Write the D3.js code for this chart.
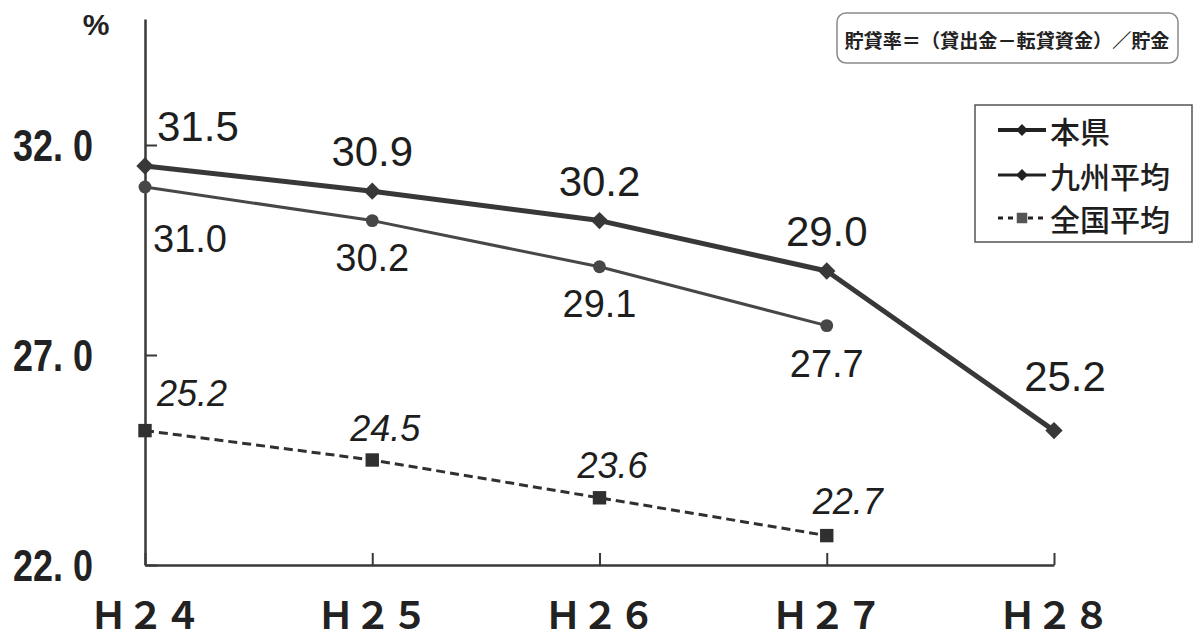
<!DOCTYPE html>
<html>
<head>
<meta charset="utf-8">
<script src="https://cdn.jsdelivr.net/npm/d3@7"></script>
<style>
  html, body { margin: 0; padding: 0; background: #fff; }
  svg { display: block; }
</style>
</head>
<body>
<svg id="chart" width="1200" height="641"></svg>
<script>
// ---- data ----
const categories = ["Ｈ２４", "Ｈ２５", "Ｈ２６", "Ｈ２７", "Ｈ２８"];
const honken   = [31.5, 30.9, 30.2, 29.0, 25.2];   // 本県
const kyushu   = [31.0, 30.2, 29.1, 27.7, null];   // 九州平均
const zenkoku  = [25.2, 24.5, 23.6, 22.7, null];   // 全国平均
const seriesNames = ["本県", "九州平均", "全国平均"];
const yTickValues = [22, 27, 32];
const yTickLabels = ["22. 0", "27. 0", "32. 0"];
const yDomain = [22, 35];
const unitLabel = "%";
const noteText = "貯貸率＝（貸出金－転貸資金）／貯金";

// ---- layout ----
const svg = d3.select("#chart");
const x = d3.scalePoint().domain(categories).range([145, 1054]);
const y = d3.scaleLinear().domain(yDomain).range([565, 19]);
const ink = "#383838";

// axes
const yAxis = d3.axisLeft(y)
  .tickValues(yTickValues)
  .tickFormat((d, i) => yTickLabels[i])
  .tickSizeInner(-12).tickSizeOuter(0).tickPadding(52);
const gy = svg.append("g").attr("transform", "translate(145,0)").call(yAxis);
gy.select(".domain").attr("stroke", ink).attr("stroke-width", 2.5);
gy.selectAll(".tick line").attr("stroke", ink).attr("stroke-width", 2);
gy.selectAll(".tick text")
  .attr("fill", "#222")
  .style("font-family", "'Liberation Sans', Arial, sans-serif")
  .style("font-weight", "bold")
  .style("font-size", "44px")
  .attr("textLength", 80)
  .attr("lengthAdjust", "spacingAndGlyphs")
  .attr("dy", "0.36em");

const xAxis = d3.axisBottom(x).tickSizeInner(-12).tickSizeOuter(0).tickPadding(36);
const gx = svg.append("g").attr("transform", "translate(0,565)").call(xAxis);
gx.select(".domain").attr("stroke", ink).attr("stroke-width", 2.5);
gx.selectAll(".tick line").attr("stroke", ink).attr("stroke-width", 2);
gx.selectAll(".tick text")
  .attr("fill", "#222")
  .attr("y", 64).attr("dy", null)
  .style("font-family", "'Noto Sans CJK JP', sans-serif")
  .style("font-weight", "bold")
  .style("font-size", "37px");

// unit label
svg.append("text").attr("x", 96).attr("y", 35)
  .attr("text-anchor", "middle")
  .style("font-family", "'Liberation Sans', Arial, sans-serif")
  .style("font-weight", "bold").style("font-size", "30px")
  .attr("fill", "#222").text(unitLabel);

// note box
svg.append("rect").attr("x", 837).attr("y", 13).attr("width", 341).attr("height", 50)
  .attr("rx", 9).attr("fill", "#fff").attr("stroke", "#8a8a8a").attr("stroke-width", 1.5);
svg.append("text").attr("x", 1007).attr("y", 39)
  .attr("text-anchor", "middle").attr("dominant-baseline", "central")
  .style("font-family", "'Noto Sans CJK JP', sans-serif")
  .style("font-weight", "bold").style("font-size", "19px")
  .attr("textLength", 325).attr("lengthAdjust", "spacingAndGlyphs")
  .attr("fill", "#222").text(noteText);

// series definitions (styles)
const seriesDefs = [
  { name: seriesNames[0], values: honken, width: 5, dash: null, marker: "diamond", msize: 150, color: "#383838" },
  { name: seriesNames[1], values: kyushu, width: 3, dash: null, marker: "circle", msize: 130, color: "#474747" },
  { name: seriesNames[2], values: zenkoku, width: 3, dash: "9,5", marker: "square", msize: 180, color: "#303030" }
];
const symType = { diamond: d3.symbolSquare, circle: d3.symbolCircle, square: d3.symbolSquare };
const symRot = { diamond: 45, circle: 0, square: 0 };

const line = d3.line()
  .defined(d => d.v != null)
  .x(d => x(d.c)).y(d => y(d.v));

// draw 全国 first, then 九州, then 本県 on top
[2, 1, 0].forEach(si => {
  const s = seriesDefs[si];
  const pts = categories.map((c, i) => ({ c, v: s.values[i] }));
  svg.append("path").datum(pts)
    .attr("d", line).attr("fill", "none")
    .attr("stroke", s.color).attr("stroke-width", s.width)
    .attr("stroke-dasharray", s.dash)
    .attr("stroke-linejoin", "round");
  svg.append("g").selectAll("path")
    .data(pts.filter(d => d.v != null))
    .join("path")
    .attr("transform", d => `translate(${x(d.c)},${y(d.v)}) rotate(${symRot[s.marker]})`)
    .attr("d", d3.symbol().type(symType[s.marker]).size(s.msize))
    .attr("fill", s.color);
});

// data labels (layout offsets)
const labelStyle = [
  { size: 42, italic: false, dx: [12, 0, 0, 0, 11], dy: [-25, -25, -25, -25, -40], anchor: ["start", "middle", "middle", "middle", "middle"] },
  { size: 38, italic: false, dx: [8, 0, 0, 0, 0], dy: [65, 50, 50, 51, 0], anchor: ["start", "middle", "middle", "middle", "middle"] },
  { size: 36, italic: true, dx: [12, 13, 13, 21, 0], dy: [-25, -19, -20, -22, 0], anchor: ["start", "middle", "middle", "middle", "middle"] }
];
seriesDefs.forEach((s, si) => {
  const ls = labelStyle[si];
  const pts = categories.map((c, i) => ({ c, v: s.values[i], i })).filter(d => d.v != null);
  svg.append("g").selectAll("text").data(pts).join("text")
    .attr("x", d => x(d.c) + ls.dx[d.i])
    .attr("y", d => y(d.v) + ls.dy[d.i])
    .attr("text-anchor", d => ls.anchor[d.i])
    .style("font-family", "'Liberation Sans', Arial, sans-serif")
    .style("font-size", ls.size + "px")
    .style("font-style", ls.italic ? "italic" : "normal")
    .attr("fill", "#1e1e1e")
    .text(d => d.v.toFixed(1));
});

// legend
const lg = svg.append("g");
lg.append("rect").attr("x", 975).attr("y", 105).attr("width", 217).attr("height", 137)
  .attr("fill", "#fff").attr("stroke", "#555").attr("stroke-width", 1.5);
const legendY = [130, 175, 218];
seriesDefs.forEach((s, i) => {
  const g = lg.append("g").attr("transform", `translate(0,${legendY[i]})`);
  g.append("line").attr("x1", 998).attr("x2", 1046).attr("y1", 0).attr("y2", 0)
    .attr("stroke", "#222").attr("stroke-width", i === 0 ? 4 : 3)
    .attr("stroke-dasharray", s.dash ? "5,5" : null);
  const isSq = s.marker === "square";
  g.append("path").attr("transform", `translate(1022,0) rotate(${isSq ? 0 : 45})`)
    .attr("d", d3.symbol().type(d3.symbolSquare).size(isSq ? 110 : 70))
    .attr("fill", isSq ? "#555" : "#222");
  g.append("text").attr("x", 1050).attr("y", 0).attr("dominant-baseline", "central")
    .style("font-family", "'Noto Sans CJK JP', sans-serif")
    .style("font-weight", "500").style("font-size", "30px")
    .attr("fill", "#1e1e1e").text(s.name);
});
</script>
</body>
</html>
